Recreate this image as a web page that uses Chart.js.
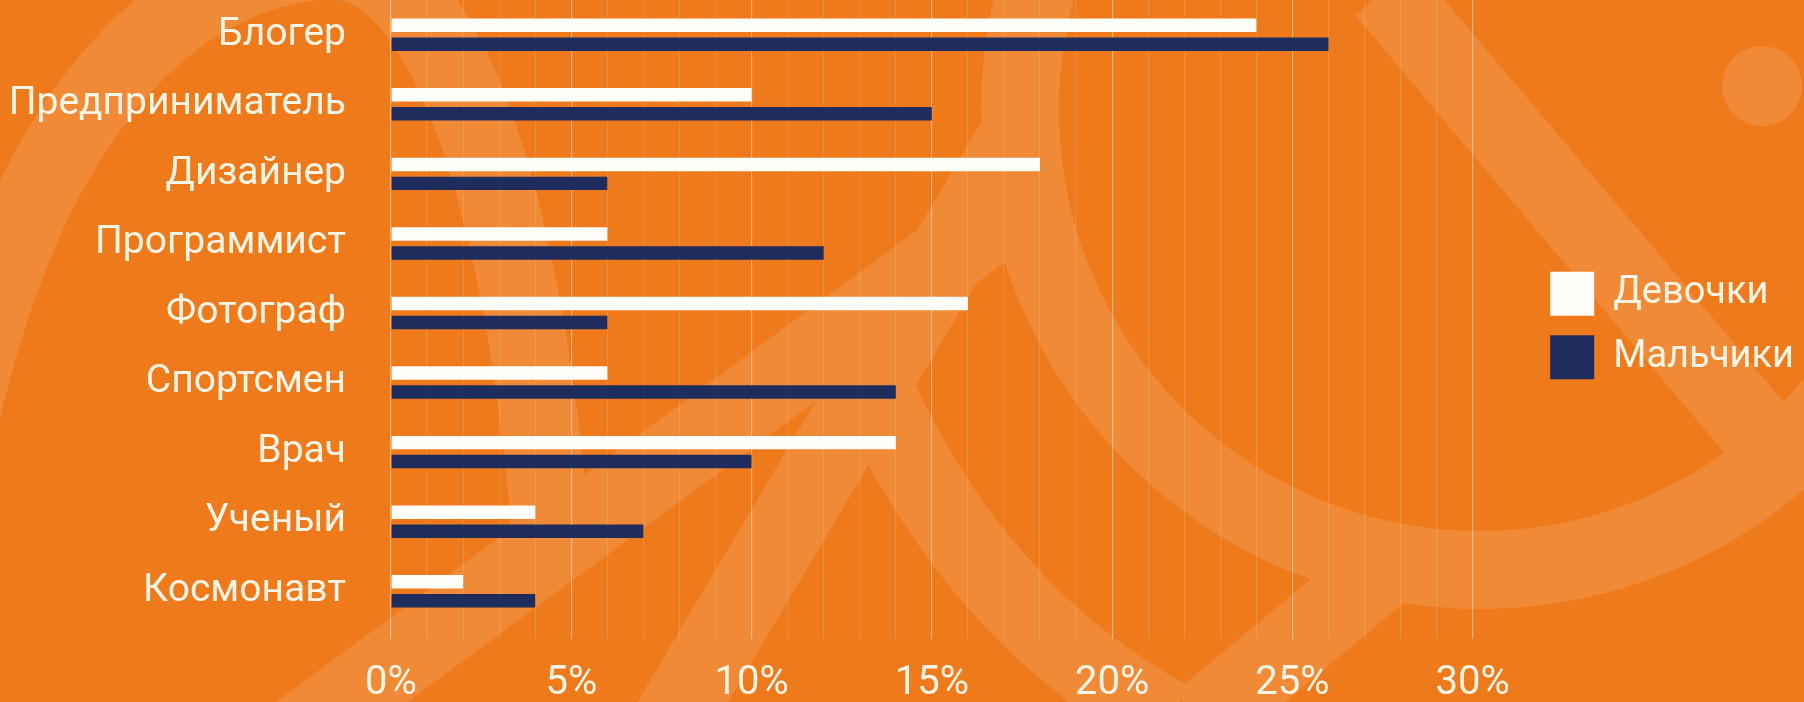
<!DOCTYPE html>
<html>
<head>
<meta charset="utf-8">
<title>Профессии мечты</title>
<script src="https://cdn.jsdelivr.net/npm/chart.js@4.4.1/dist/chart.umd.min.js"></script>
<style>
  html, body { margin: 0; padding: 0; background: #EE7A1B; overflow: hidden; }
  #wrap { position: relative; width: 1804px; height: 702px; }
</style>
</head>
<body>
<div id="wrap"><canvas id="chart_professions"></canvas></div>
<script>
// data (percent)
var categories = ['Блогер', 'Предприниматель', 'Дизайнер', 'Программист', 'Фотограф', 'Спортсмен', 'Врач', 'Ученый', 'Космонавт'];
var girls = [24, 10, 18, 6, 16, 6, 14, 4, 2];
var boys = [26, 15, 6, 12, 6, 14, 10, 7, 4];
var seriesNames = ['Девочки', 'Мальчики'];
var xMin = 0, xMax = 30, xStep = 1, labelEvery = 5;

var textColor = '#FFF5E6';
var orange = '#EE7A1B';

// light decorative shapes behind the chart
var backdrop = {
    id: 'backdrop',
    beforeDraw: function(chart) {
        var ctx = chart.ctx;
        ctx.save();
        ctx.fillStyle = orange;
        ctx.fillRect(0, 0, chart.width, chart.height);
        ctx.strokeStyle = 'rgba(255,255,255,0.12)';
        ctx.fillStyle = 'rgba(255,255,255,0.12)';
        ctx.lineCap = 'butt';
        ctx.lineJoin = 'round';
        ctx.lineWidth = 78;
        ctx.beginPath();
        // top-left loop
        ctx.moveTo(-40, 420);
        ctx.bezierCurveTo(20, 150, 150, -30, 330, -40);
        ctx.bezierCurveTo(470, -40, 535, 300, 552, 555);
        // long diagonal from bottom-left
        ctx.moveTo(290, 740);
        ctx.lineTo(1025, 199);
        // steep stroke
        ctx.moveTo(672, 720);
        ctx.lineTo(1022, 130);
        // inner curve
        ctx.moveTo(870, 380);
        ctx.quadraticCurveTo(975, 615, 1170, 720);
        // big ring on the right
        ctx.moveTo(1480 + 460 * Math.cos(Math.PI + 0.3), 110 + 460 * Math.sin(Math.PI + 0.3));
        ctx.arc(1480, 110, 460, Math.PI + 0.3, Math.PI * 0.2, true);
        // diagonal at the top right
        ctx.moveTo(1385, -10);
        ctx.lineTo(1790, 470);
        // short stroke at the bottom
        ctx.moveTo(1200, 722);
        ctx.lineTo(1392, 562);
        ctx.stroke();
        ctx.beginPath();
        ctx.arc(1762, 86, 40, 0, Math.PI * 2);
        ctx.fill();
        ctx.restore();
    }
};

function makeChart() {
    Chart.defaults.font.family = 'Roboto';
    var chart_professions = new Chart(document.getElementById('chart_professions'), {
        type: 'bar',
        data: {
            labels: categories,
            datasets: [
                {
                    label: seriesNames[0],
                    data: girls,
                    backgroundColor: '#FFFDF8',
                    borderWidth: 0,
                    categoryPercentage: 0.546,
                    barPercentage: 0.71
                },
                {
                    label: seriesNames[1],
                    data: boys,
                    backgroundColor: '#1F2C5E',
                    borderWidth: 0,
                    categoryPercentage: 0.546,
                    barPercentage: 0.71
                }
            ]
        },
        options: {
            indexAxis: 'y',
            animation: false,
            responsive: true,
            maintainAspectRatio: false,
            layout: { padding: 0 },
            plugins: {
                tooltip: { enabled: false },
                legend: {
                    position: 'right',
                    fullSize: false,
                    title: {
                        display: true,
                        text: '',
                        font: { size: 10, lineHeight: 1.2 },
                        padding: { top: 13, bottom: 0 }
                    },
                    labels: {
                        color: textColor,
                        boxWidth: 44,
                        boxHeight: 44,
                        padding: 19.5,
                        font: { family: 'Roboto', size: 38 }
                    }
                }
            },
            scales: {
                x: {
                    type: 'linear',
                    min: xMin,
                    max: xMax,
                    border: { display: false },
                    grid: {
                        drawTicks: true,
                        tickLength: 13,
                        lineWidth: 1.2,
                        color: function(c) {
                            return c.tick && c.tick.value % labelEvery === 0
                                ? 'rgba(255,255,255,0.42)'
                                : 'rgba(255,255,255,0.13)';
                        }
                    },
                    ticks: {
                        stepSize: xStep,
                        autoSkip: false,
                        maxRotation: 0,
                        padding: 21,
                        color: textColor,
                        font: { family: 'Roboto', size: 40 },
                        callback: function(value) {
                            return value % labelEvery === 0 ? value + '%' : '';
                        }
                    },
                    afterFit: function(scale) {
                        scale.height = 76;
                        scale.paddingLeft = 0;
                        scale.paddingRight = 0;
                    }
                },
                y: {
                    border: { display: false },
                    grid: { display: false, drawTicks: true, tickLength: 45 },
                    ticks: {
                        padding: 0,
                        color: textColor,
                        font: { family: 'Roboto', size: 39 }
                    },
                    afterFit: function(scale) {
                        scale.width = 391;
                        scale.paddingTop = 0;
                        scale.paddingBottom = 0;
                    }
                },
                gap: {
                    type: 'linear',
                    position: 'right',
                    display: true,
                    border: { display: false },
                    grid: { display: false },
                    ticks: { display: false },
                    afterFit: function(scale) {
                        scale.width = 58;
                        scale.paddingTop = 0;
                        scale.paddingBottom = 0;
                    }
                }
            }
        },
        plugins: [backdrop]
    });
}

if (document.fonts && document.fonts.load) {
    document.fonts.load('40px Roboto').then(makeChart, makeChart);
} else {
    makeChart();
}
</script>
</body>
</html>
